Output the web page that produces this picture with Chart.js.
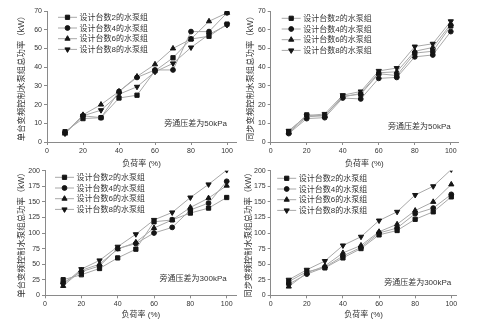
<!DOCTYPE html>
<html>
<head>
<meta charset="utf-8">
<script src="https://cdn.jsdelivr.net/npm/chart.js"></script>
<style>
    body { margin: 0; background: #fff; }
    #wrap { position: relative; width: 479px; height: 323px; }
    #wrap canvas { position: absolute; left: 0; top: 0; }
</style>
</head>
<body>
<div id="wrap">
    <canvas id="c1" width="479" height="323"></canvas>
    <canvas id="c2" width="479" height="323"></canvas>
    <canvas id="c3" width="479" height="323"></canvas>
    <canvas id="c4" width="479" height="323"></canvas>
</div>
<script>
// load rate (%) on every x axis
const loadRate = [10, 20, 30, 40, 50, 60, 70, 80, 90, 100];

const seriesNames = [
    "设计台数2的水泵组",
    "设计台数4的水泵组",
    "设计台数6的水泵组",
    "设计台数8的水泵组"
];

// single VFD control, bypass 50kPa
const single50_n2 = [5.5, 12.5, 13, 23.5, 25, 38, 45, 55, 56.5, 63];
const single50_n4 = [5, 14, 13, 27, 34.5, 38.5, 38.5, 59, 59, 69];
const single50_n6 = [4.5, 14.5, 20, 27, 35, 41.5, 50, 55, 64.5, 69];
const single50_n8 = [4.5, 14, 17, 25.5, 29.5, 37.5, 42, 50.5, 57.5, 62.5];

// synchronous VFD control, bypass 50kPa
const sync50_n2 = [5.5, 14.5, 14, 24.5, 25.5, 36.5, 35.5, 47.5, 48.5, 62];
const sync50_n4 = [4.5, 12.5, 13, 23.5, 23, 34, 34.5, 45.5, 46.5, 59];
const sync50_n6 = [5, 13.5, 14, 24, 26, 37, 37.5, 48.5, 50.5, 63];
const sync50_n8 = [6, 14, 15, 25, 27, 38, 39.5, 51, 52.5, 64.5];

// single VFD control, bypass 300kPa
const single300_n2 = [25, 33, 43, 60, 74, 118, 121, 132, 140, 157];
const single300_n4 = [20, 38, 47, 75, 83, 100, 109, 137, 148, 183];
const single300_n6 = [15, 40, 50, 74, 85, 108, 121, 141, 156, 176];
const single300_n8 = [17, 42, 56, 78, 98, 121, 133, 157, 178, 201];

// synchronous VFD control, bypass 300kPa
const sync300_n2 = [22, 38, 44, 60, 75, 97, 104, 122, 134, 158];
const sync300_n4 = [18, 34, 45, 63, 77, 100, 108, 131, 140, 162];
const sync300_n6 = [14, 36, 47, 68, 80, 102, 114, 136, 150, 178];
const sync300_n8 = [25, 41, 55, 80, 94, 120, 134, 161, 175, 202];

const yTicksTop = [0, 10, 20, 30, 40, 50, 60, 70];
const yTicksBottom = [0, 25, 50, 75, 100, 125, 150, 175, 200];
const xTicks = [0, 20, 40, 60, 80, 100];

const markerStyles = [
    { pointStyle: "rect", rotation: 0, radius: 3 },
    { pointStyle: "circle", rotation: 0, radius: 2.4 },
    { pointStyle: "triangle", rotation: 0, radius: 3 },
    { pointStyle: "triangle", rotation: 180, radius: 3 }
];

const latinFont = "'Liberation Sans', Arial, 'Noto Sans CJK SC', sans-serif";
const textColor = "#333";
const axisColor = "#8a8a8a";
const lineColor = "#a8a8a8";
const markColor = "#151515";

// draws the line+marker legend and the bypass note inside each panel
const panelText = {

    id: "panelText",

    afterDatasetsDraw(chart, args, opts) {

        const ctx = chart.ctx;
        const area = chart.chartArea;

        ctx.save();

        ctx.font = "8px " + latinFont;
        ctx.textBaseline = "middle";
        ctx.textAlign = "left";

        chart.data.datasets.forEach((ds, i) => {

            const x0 = area.left + opts.legendDX;
            const y = area.top + opts.legendDY + i * opts.rowGap;
            const x1 = x0 + opts.lineLen;

            ctx.strokeStyle = lineColor;
            ctx.lineWidth = 1;
            ctx.beginPath();
            ctx.moveTo(x0, y);
            ctx.lineTo(x1, y);
            ctx.stroke();

            ctx.fillStyle = markColor;
            ctx.strokeStyle = markColor;
            Chart.helpers.drawPoint(ctx, {
                pointStyle: ds.pointStyle,
                rotation: ds.pointRotation,
                radius: ds.pointRadius,
                borderWidth: 1
            }, (x0 + x1) / 2, y);

            ctx.fillStyle = textColor;
            ctx.fillText(ds.label, x1 + 2.5, y + 0.5);
        });

        const xs = chart.scales.x;
        const ys = chart.scales.y;

        ctx.textAlign = "right";
        ctx.fillStyle = textColor;
        ctx.fillText(
            opts.note,
            xs.getPixelForValue(opts.noteAt[0]),
            ys.getPixelForValue(opts.noteAt[1])
        );

        ctx.restore();
    }
};

function makeDatasets(seriesList) {

    return seriesList.map((values, i) => ({

        label: seriesNames[i],

        data: values.map((v, k) => ({ x: loadRate[k], y: v })),

        borderColor: lineColor,
        borderWidth: 1,

        pointStyle: markerStyles[i].pointStyle,
        pointRotation: markerStyles[i].rotation,
        pointRadius: markerStyles[i].radius,

        pointBackgroundColor: markColor,
        pointBorderColor: markColor,
        pointBorderWidth: 1,

        tension: 0
    }));
}

function makeChart(canvasId, panel) {

    const ctx = document.getElementById(canvasId).getContext("2d");

    return new Chart(ctx, {

        type: "line",

        data: {
            datasets: makeDatasets(panel.series)
        },

        plugins: [panelText],

        options: {

            responsive: false,
            animation: false,
            devicePixelRatio: 1,

            layout: {
                padding: panel.padding
            },

            plugins: {
                legend: { display: false },
                tooltip: { enabled: false },
                panelText: {
                    legendDX: panel.legendDX,
                    legendDY: panel.legendDY,
                    rowGap: 10.7,
                    lineLen: 19,
                    note: panel.note,
                    noteAt: panel.noteAt
                }
            },

            scales: {

                x: {
                    type: "linear",
                    min: 0,
                    max: panel.xMax,
                    afterBuildTicks: axis => {
                        axis.ticks = xTicks.map(v => ({ value: v }));
                    },
                    afterFit: axis => {
                        axis.height = panel.xHeight;
                    },
                    grid: {
                        drawOnChartArea: false,
                        tickLength: 3,
                        color: axisColor
                    },
                    border: { color: axisColor, width: 1 },
                    ticks: {
                        padding: 2,
                        color: textColor,
                        maxRotation: 0,
                        font: { family: latinFont, size: 7 }
                    },
                    title: {
                        display: true,
                        text: "负荷率 (%)",
                        color: textColor,
                        padding: { top: 0, bottom: 3 },
                        font: { family: latinFont, size: 8 }
                    }
                },

                y: {
                    min: 0,
                    max: panel.yTicks[panel.yTicks.length - 1],
                    afterBuildTicks: axis => {
                        axis.ticks = panel.yTicks.map(v => ({ value: v }));
                    },
                    afterFit: axis => {
                        axis.width = panel.yWidth;
                    },
                    grid: {
                        drawOnChartArea: false,
                        tickLength: 3,
                        color: axisColor
                    },
                    border: { color: axisColor, width: 1 },
                    ticks: {
                        padding: 2,
                        color: textColor,
                        font: { family: latinFont, size: 7 }
                    },
                    title: {
                        display: true,
                        text: panel.yTitle,
                        color: textColor,
                        padding: { top: panel.yTitlePad, bottom: 0 },
                        font: { family: latinFont, size: 8.4 }
                    }
                }
            }
        }
    });
}

makeChart("c1", {
    series: [single50_n2, single50_n4, single50_n6, single50_n8],
    yTicks: yTicksTop,
    xMax: 105,
    padding: { left: 0, top: 11, right: 243, bottom: 151 },
    yWidth: 47,
    xHeight: 30,
    yTitle: "单台变频控制水泵组总功率（kW）",
    yTitlePad: 17,
    legendDX: 11,
    legendDY: 6.3,
    note: "旁通压差为50kPa",
    noteAt: [100, 9.6]
});

makeChart("c2", {
    series: [sync50_n2, sync50_n4, sync50_n6, sync50_n8],
    yTicks: yTicksTop,
    xMax: 104,
    padding: { left: 240, top: 11, right: 21, bottom: 151 },
    yWidth: 30.7,
    xHeight: 30,
    yTitle: "同步变频控制水泵组总功率（kW）",
    yTitlePad: 6,
    legendDX: 11,
    legendDY: 7.3,
    note: "旁通压差为50kPa",
    noteAt: [100, 8]
});

makeChart("c3", {
    series: [single300_n2, single300_n4, single300_n6, single300_n8],
    yTicks: yTicksBottom,
    xMax: 105.5,
    padding: { left: 0, top: 170.7, right: 242.3, bottom: 0 },
    yWidth: 45,
    xHeight: 27.7,
    yTitle: "单台变频控制水泵组总功率（kW）",
    yTitlePad: 17,
    legendDX: 10,
    legendDY: 6.6,
    note: "旁通压差为300kPa",
    noteAt: [100, 26]
});

makeChart("c4", {
    series: [sync300_n2, sync300_n4, sync300_n6, sync300_n8],
    yTicks: yTicksBottom,
    xMax: 103,
    padding: { left: 240, top: 170.7, right: 22.3, bottom: 0 },
    yWidth: 30.7,
    xHeight: 27.7,
    yTitle: "同步变频控制水泵组总功率（kW）",
    yTitlePad: 4,
    legendDX: 6.5,
    legendDY: 7.6,
    note: "旁通压差为300kPa",
    noteAt: [100, 20]
});
</script>
</body>
</html>
